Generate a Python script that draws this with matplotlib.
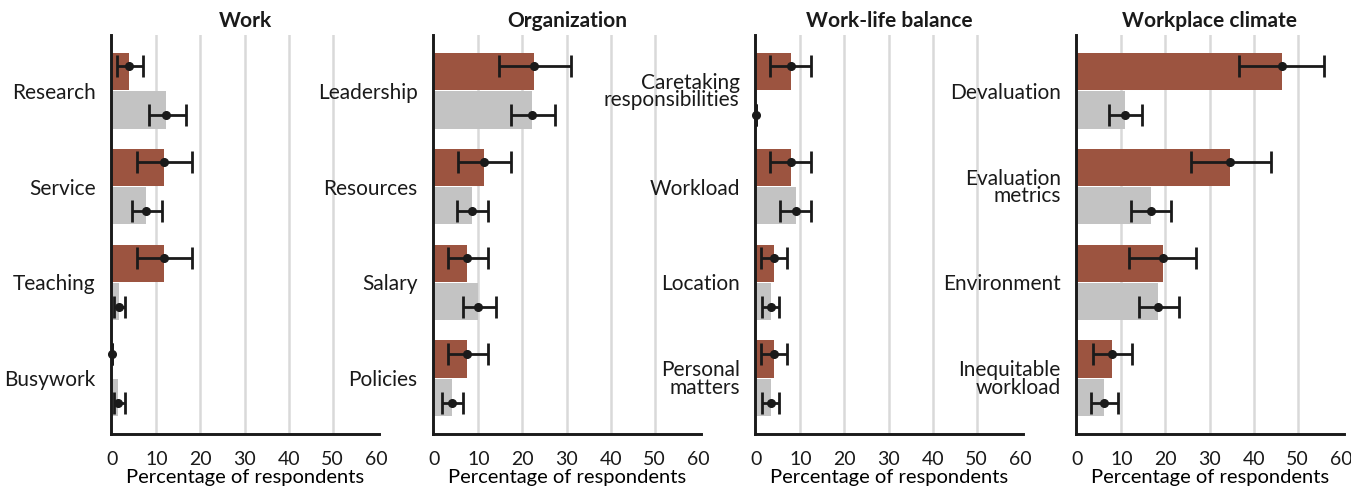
import numpy as np
import matplotlib
matplotlib.use('Agg')
import matplotlib.pyplot as plt

###################################################################
## data (percentage of respondents)

titles = ['Work', 'Organization', 'Work-life balance', 'Workplace climate']

categories = [
    ['Research', 'Service', 'Teaching', 'Busywork'],
    ['Leadership', 'Resources', 'Salary', 'Policies'],
    ['Caretaking\nresponsibilities', 'Workload', 'Location', 'Personal\nmatters'],
    ['Devaluation', 'Evaluation\nmetrics', 'Environment', 'Inequitable\nworkload'],
]

## first group (brown bars)
brown_val = [
    [3.8, 11.7, 11.7, 0.0],
    [22.7, 11.2, 7.3, 7.3],
    [7.9, 7.9, 3.9, 3.9],
    [46.4, 34.6, 19.4, 7.9],
]
brown_lo = [
    [1.1, 5.7, 5.7, 0.0],
    [14.6, 5.3, 3.0, 3.0],
    [3.2, 3.2, 1.0, 1.0],
    [36.6, 25.7, 11.8, 3.5],
]
brown_hi = [
    [6.9, 18.1, 18.1, 0.0],
    [30.9, 17.3, 12.1, 12.1],
    [12.5, 12.5, 6.9, 6.9],
    [55.9, 43.9, 26.9, 12.5],
]

## second group (grey bars)
grey_val = [
    [12.2, 7.7, 1.5, 1.4],
    [22.2, 8.6, 9.9, 4.0],
    [0.0, 9.0, 3.3, 3.3],
    [10.8, 16.8, 18.2, 6.1],
]
grey_lo = [
    [8.4, 4.4, 0.4, 0.4],
    [17.3, 5.1, 6.6, 1.8],
    [0.0, 5.4, 1.3, 1.3],
    [7.2, 12.2, 13.9, 3.2],
]
grey_hi = [
    [16.8, 11.2, 2.9, 2.9],
    [27.3, 12.2, 14.0, 6.6],
    [0.0, 12.5, 5.2, 5.2],
    [14.6, 21.3, 23.1, 9.3],
]

xticks = [0, 10, 20, 30, 40, 50, 60]
xlabel = 'Percentage of respondents'

###################################################################
## style

brown = '#9c5440'
grey = '#c3c3c3'
ink = '#1a1a1a'
gridc = '#d9d9d9'

plt.rcParams['font.family'] = ['Lato', 'DejaVu Sans']
plt.rcParams['text.color'] = ink

W, H = 1351, 491
fig = plt.figure(figsize=(W/100, H/100), dpi=100)

lefts = [111, 433, 755, 1076]
ax_w = 268
ax_top, ax_bot = 35, 434

for k in range(4):
    ax = fig.add_axes([lefts[k]/W, 1-ax_bot/H, ax_w/W, (ax_bot-ax_top)/H])
    y = np.arange(len(categories[k]))

    ## grid lines behind everything
    for g in [10, 20, 30, 40, 50]:
        ax.axvline(g, color=gridc, lw=1.8, zorder=0)

    ax.barh(y-0.2, brown_val[k], height=0.39, color=brown, zorder=2)
    ax.barh(y+0.2, grey_val[k], height=0.39, color=grey, zorder=2)

    bv = np.array(brown_val[k]); gv = np.array(grey_val[k])
    berr = [bv-np.array(brown_lo[k]), np.array(brown_hi[k])-bv]
    gerr = [gv-np.array(grey_lo[k]), np.array(grey_hi[k])-gv]
    for vals, err, dy in [(bv, berr, -0.256), (gv, gerr, 0.256)]:
        ax.errorbar(vals, y+dy, xerr=err, fmt='o', color=ink, ms=5.5,
                    elinewidth=2.0, capsize=8, capthick=2.0, zorder=4,
                    clip_on=False)

    ax.set_ylim(3.58, -0.58)
    ax.set_xlim(-0.3, 60.5)
    ax.set_yticks(y)
    ax.set_yticklabels(categories[k], fontsize=15, linespacing=0.85)
    ax.set_xticks(xticks)
    ax.set_xticklabels([str(t) for t in xticks], fontsize=14)
    ax.tick_params(axis='both', length=0, colors=ink)
    ax.tick_params(axis='y', pad=11)
    ax.tick_params(axis='x', pad=12)
    for s in ['top', 'right']:
        ax.spines[s].set_visible(False)
    for s in ['left', 'bottom']:
        ax.spines[s].set_linewidth(2.1)
        ax.spines[s].set_color(ink)
        ax.spines[s].set_zorder(5)
    ax.set_xlabel(xlabel, fontsize=14.5, labelpad=1)
    ax.set_title(titles[k], fontsize=15, fontweight='bold', pad=6)

fig.savefig('out.png', dpi=100)
